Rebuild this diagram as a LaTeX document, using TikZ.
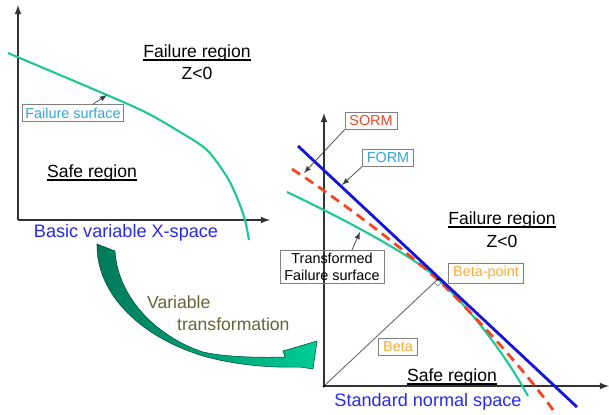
\documentclass[tikz,border=0pt]{standalone}
\usepackage{fontspec}
\setmainfont{Liberation Sans}

\definecolor{surfgreen}{RGB}{30,200,150}
\definecolor{formblue}{RGB}{20,20,215}
\definecolor{sormred}{RGB}{245,70,35}
\definecolor{spaceblue}{RGB}{40,40,240}
\definecolor{olivetext}{RGB}{100,100,55}
\definecolor{skyblue}{RGB}{50,165,215}
\definecolor{betaorange}{RGB}{255,170,50}
\definecolor{arrowdark}{RGB}{0,120,90}
\definecolor{arrowlight}{RGB}{0,205,150}

% underlined region name, rule close to the baseline
\newcommand{\regionline}[1]{\setbox0\hbox{#1}\rlap{\rule[-1.7pt]{\wd0}{0.6pt}}\box0}

\tikzset{
  region/.style={font=\fontsize{10}{12}\selectfont},
  spacename/.style={text=spaceblue, font=\fontsize{10.3}{12}\selectfont},
  tag/.style={draw=gray, inner xsep=2.5pt, inner ysep=1.8pt, font=\fontsize{8.2}{9.5}\selectfont},
  pointer/.style={-latex, draw=black!75, line width=0.4pt},
  axis/.style={-latex, draw=black!80, line width=0.8pt},
  surface/.style={draw=surfgreen, line width=1.2pt},
}

\begin{document}
\begin{tikzpicture}[x=0.02cm, y=-0.02cm]
    \useasboundingbox (0,0) rectangle (609,414);

    % Basic variable space (left)
    \coordinate (xo)    at  (18,220);
    \coordinate (xtop)  at  (18,5);
    \coordinate (xend)  at (270,220);
    \coordinate (fs)    at (107,95);

    \draw[axis] (xo) -- (xtop);
    \draw[axis] (xo) -- (xend);
    \draw[surface] plot[smooth] coordinates {(8,53) (107,95) (147,113) (180,132) (207,150) (227,177) (238,200) (245,220) (249,240)};

    \node[region] (lfail) at (197,53) {\regionline{Failure region}};
    \node[region] (lz)    at (197,73) {Z<0};
    \node[region] (lsafe) at  (92,173) {\regionline{Safe region}};
    \node[spacename] (xspace) at (126,233) {Basic variable X-space};
    \node[tag, inner xsep=1.5pt, text=skyblue] (fsbox) at (73,113) {Failure surface};
    \draw[pointer] ([xshift=0.4cm]fsbox.north) -- (fs);

    % Standard normal space (right)
    \coordinate (uo)    at (324,386);
    \coordinate (utop)  at (324,113);
    \coordinate (uend)  at (609,386);
    \coordinate (fa)    at (298,146);
    \coordinate (fb)    at (577,407);
    \coordinate (bp)    at (438,279);
    \coordinate (sp)    at (304,173);
    \coordinate (fp)    at (342,185);
    \coordinate (tp)    at (360,232);

    \draw[axis] (uo) -- (utop);
    \draw[axis] (uo) -- (uend);

    % Transformed surface, SORM and FORM
    \draw[surface] (287,192) .. controls (350,222) and (413,256) .. (bp)
        .. controls (463,302) and (500,345) .. (528,396);
    \draw[sormred, line width=1.6pt, dash pattern=on 5.5pt off 3.5pt]
        (292,169) .. controls (340,200) and (410,254) .. (438,280)
        .. controls (466,306) and (525,370) .. (553,410);
    \draw[formblue, line width=1.6pt] (fa) -- (fb);

    % Beta
    \draw[black!60, line width=0.5pt] (uo) -- (bp);
    \draw[black!50, line width=0.4pt] (bp) ++(-3.6,3.4) -- ++(3.4,3.6) -- ++(3.6,-3.4);
    \fill (uo) circle (1.5);
    \fill (bp) circle (1.5);

    \node[tag, text=sormred] (sorm) at (371,121) {SORM};
    \node[tag, text=skyblue] (form) at (388,158) {FORM};
    \node[tag, align=center] (tfs) at (332,267) {Transformed\\Failure surface};
    \node[tag, text=betaorange] (bpbox) at (486,273) {Beta-point};
    \node[tag, text=betaorange] (betabox) at (398,347) {Beta};

    \draw[pointer] (sorm.south west) -- (sp);
    \draw[pointer] (form.south west) -- (fp);
    \draw[pointer] ([xshift=0.4cm]tfs.north) -- (tp);

    \node[region] (rfail) at (502,220) {\regionline{Failure region}};
    \node[region] (rz)    at (502,241) {Z<0};
    \node[region] (rsafe) at (452,377) {\regionline{Safe region}};
    \node[spacename] (uspace) at (428,402) {Standard normal space};

    % Transformation arrow
    \shade[left color=arrowdark, right color=arrowlight, draw=arrowdark!60!black, line width=0.3pt]
        (97,244) .. controls (96,290) and (135,335) .. (203,356)
        .. controls (235,365) and (270,368) .. (300,367) -- (313,369) -- (317,341)
        -- (283,351) -- (285,357) .. controls (250,358) and (220,356) .. (203,352)
        .. controls (160,338) and (118,300) .. (115,251) -- cycle;
    \node[region, text=olivetext, anchor=west] (vt1) at (141,302) {Variable};
    \node[region, text=olivetext, anchor=west] (vt2) at (171,324) {transformation};
\end{tikzpicture}
\end{document}
